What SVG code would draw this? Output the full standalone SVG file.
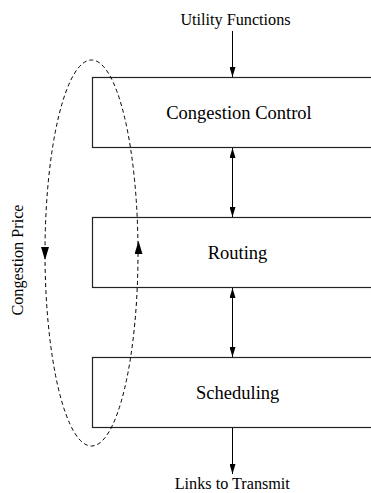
<svg xmlns="http://www.w3.org/2000/svg" width="371" height="493" viewBox="0 0 371 493">
<style>
.box{fill:#fff;stroke:#222;stroke-width:1.2}
.lbl{font-family:'Liberation Serif',serif;font-size:18.5px;fill:#000;text-anchor:middle}
.sm{font-family:'Liberation Serif',serif;font-size:16.2px;fill:#000;text-anchor:middle}
.ln{stroke:#000;stroke-width:1;fill:none}
.dash{stroke:#000;stroke-width:1;fill:none;stroke-dasharray:4 3}
</style>
<defs>
<marker id="ah" viewBox="0 0 10 6" refX="10" refY="3" markerWidth="10" markerHeight="6" markerUnits="userSpaceOnUse" orient="auto-start-reverse">
<path d="M0,0 L10,3 L0,6 Z" fill="#000"/>
</marker>
<marker id="dh" viewBox="0 0 13 8" refX="13" refY="4" markerWidth="13" markerHeight="8" markerUnits="userSpaceOnUse" orient="auto">
<path d="M0,0 L13,4 L0,8 Z" fill="#000"/>
</marker>
</defs>
<g id="cc"><rect class="box" x="92.5" y="77.5" width="300" height="70"/><text class="lbl" font-family="'Liberation Serif'" x="239" y="118.5">Congestion Control</text></g>
<g id="routing"><rect class="box" x="92.5" y="217.5" width="300" height="70"/><text class="lbl" font-family="'Liberation Serif'" x="237.5" y="259">Routing</text></g>
<g id="sched"><rect class="box" x="92.5" y="357.5" width="300" height="70"/><text class="lbl" font-family="'Liberation Serif'" x="237.7" y="399">Scheduling</text></g>
<g id="labels">
<text class="sm" font-family="'Liberation Serif'" x="235.5" y="25">Utility Functions</text>
<text class="sm" font-family="'Liberation Serif'" x="232.3" y="489">Links to Transmit</text>
<text class="sm" font-family="'Liberation Serif'" transform="translate(22.5,260) rotate(-90)">Congestion Price</text>
</g>
<g id="connectors">
<line class="ln" x1="232.5" y1="31" x2="232.5" y2="77" marker-end="url(#ah)"/>
<line class="ln" x1="232.5" y1="148" x2="232.5" y2="217" marker-start="url(#ah)" marker-end="url(#ah)"/>
<line class="ln" x1="232.5" y1="288" x2="232.5" y2="357" marker-start="url(#ah)" marker-end="url(#ah)"/>
<line class="ln" x1="232.5" y1="428" x2="232.5" y2="474" marker-end="url(#ah)"/>
<ellipse class="dash" cx="91.5" cy="253" rx="46.5" ry="193"/>
<line x1="45" y1="245" x2="45" y2="260" stroke="none" marker-end="url(#dh)"/>
<line x1="138.5" y1="256" x2="138.5" y2="241" stroke="none" marker-end="url(#dh)"/>
</g>
</svg>
